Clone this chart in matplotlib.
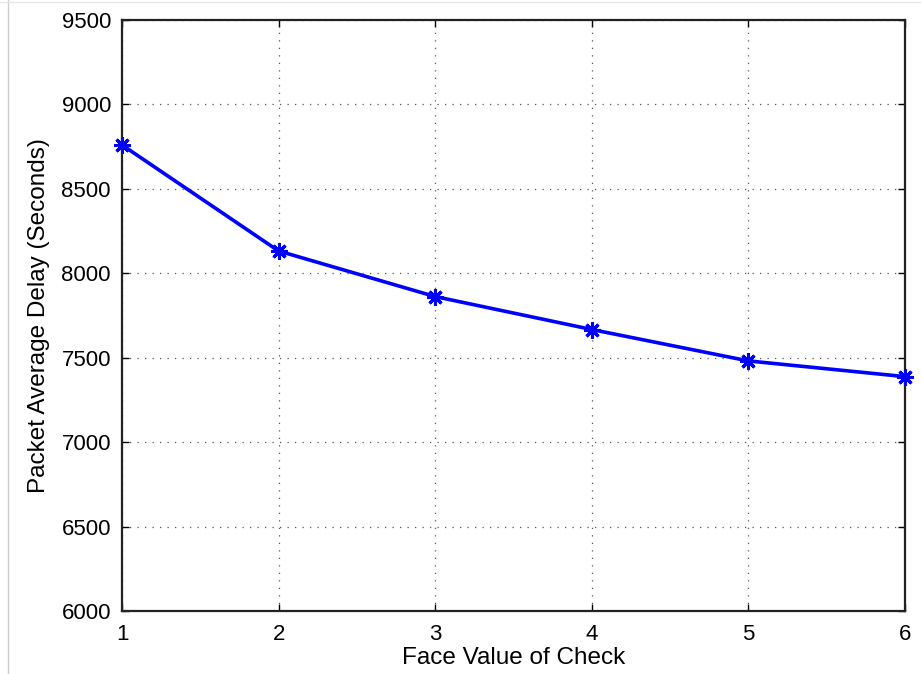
import matplotlib
matplotlib.use("Agg")
import matplotlib.pyplot as plt
from matplotlib.lines import Line2D

face_value = [1, 2, 3, 4, 5, 6]
avg_delay = [8760, 8132, 7862, 7667, 7481, 7388]
y_ticks = [6000, 6500, 7000, 7500, 8000, 8500, 9000, 9500]

plt.rcParams['font.family'] = ['Liberation Sans', 'DejaVu Sans']

fig = plt.figure(figsize=(9.21, 6.74), dpi=100)
ax = fig.add_axes([122 / 921, 1 - 611 / 674, (905 - 122) / 921, (611 - 20) / 674])

ax.plot(face_value, avg_delay, color='#0000ff', lw=2.6, marker=(8, 2, 0),
        markersize=12, markeredgewidth=2.2, clip_on=False, zorder=3)

ax.set_xlim(1, 6)
ax.set_ylim(6000, 9500)
ax.set_xticks(face_value)
ax.set_yticks(y_ticks)
ax.grid(True, linestyle=(0, (1, 5)), color='#555555', lw=0.9)
ax.tick_params(direction='in', top=True, right=True, length=5, width=1.0,
               labelsize=16)
ax.tick_params(axis='y', pad=8)
ax.tick_params(axis='x', pad=9)
for s in ax.spines.values():
    s.set_linewidth(1.6)
    s.set_color('#222222')

ax.set_xlabel('Face Value of Check', fontsize=17.5, labelpad=2)
ax.set_ylabel('Packet Average Delay (Seconds)', fontsize=17.5, labelpad=8)

# faint frame of the original screenshot
fig.add_artist(Line2D([8 / 921, 8 / 921], [0, 1], color='#cccccc', lw=1))
fig.add_artist(Line2D([0, 1], [1 - 2 / 674, 1 - 2 / 674], color='#e6e6e6', lw=1))

fig.savefig('out.png', dpi=100)
